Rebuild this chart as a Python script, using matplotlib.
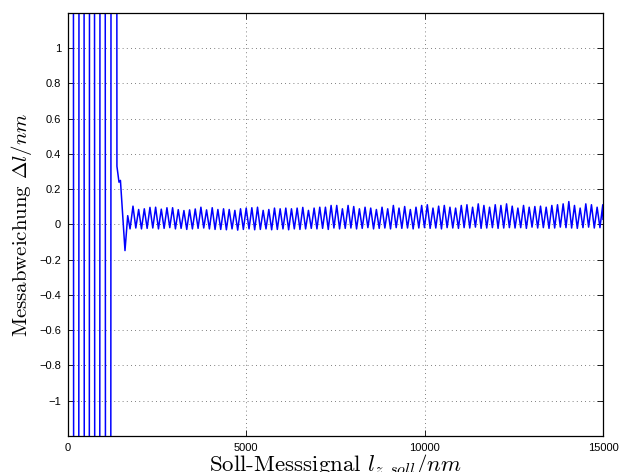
import numpy as np
import matplotlib
matplotlib.use("Agg")
import matplotlib.pyplot as plt
from matplotlib.ticker import FuncFormatter

# Anfangsbereich: große Ausschläge (außerhalb der Skala), Werte geschätzt
start_x = [0, 80, 230, 380, 527, 673, 819, 968, 1126, 1280]
start_y = [0.58, 40, -40, 40, -40, 40, -40, 40, -40, 40]

# Einschwingen
trans_x = [1372, 1430, 1470, 1598, 1674, 1740]
trans_y = [0.33, 0.24, 0.25, -0.148, 0.05, -0.025]

# stationäre Schwingung: Maxima und Minima
peak_first = 1822
peak_last = 14994
peak_vals = [0.104, 0.085, 0.089, 0.097, 0.098, 0.087, 0.095, 0.095, 0.084, 0.079,
             0.083, 0.088, 0.098, 0.083, 0.095,
             0.085, 0.089, 0.085, 0.080, 0.089, 0.093, 0.095, 0.098, 0.080, 0.085,
             0.093, 0.089, 0.093, 0.089, 0.093, 0.097, 0.080,
             0.093, 0.098, 0.098, 0.108, 0.108, 0.089, 0.108, 0.102, 0.089, 0.098,
             0.093, 0.085, 0.098, 0.089, 0.108, 0.093, 0.102, 0.085,
             0.098, 0.108, 0.112, 0.093, 0.104, 0.108, 0.098, 0.093, 0.108, 0.112,
             0.098, 0.117, 0.108, 0.098, 0.112, 0.108, 0.117,
             0.104, 0.093, 0.108, 0.098, 0.102, 0.104, 0.098, 0.108, 0.112, 0.117,
             0.130, 0.108, 0.093, 0.117, 0.112, 0.098, 0.112]
trough_vals = [-0.020, -0.025, -0.022, -0.020, -0.025, -0.022, -0.018, -0.025, -0.022, -0.028,
               -0.025, -0.022, -0.020, -0.025, -0.028,
               -0.028, -0.030, -0.025, -0.032, -0.028, -0.025, -0.030, -0.028, -0.025, -0.030,
               -0.028, -0.025, -0.030, -0.025, -0.028, -0.025, -0.022,
               -0.025, -0.022, -0.028, -0.020, -0.025, -0.022, -0.020, -0.025, -0.022, -0.018,
               -0.025, -0.022, -0.020, -0.025, -0.018, -0.022, -0.020, -0.025,
               -0.020, -0.018, -0.022, -0.020, -0.025, -0.018, -0.020, -0.022, -0.018, -0.020,
               -0.015, -0.022, -0.020, -0.018, -0.022, -0.020, -0.018,
               -0.020, -0.018, -0.022, -0.015, -0.020, -0.018, -0.022, -0.020, -0.015, -0.018,
               -0.020, -0.022, -0.018, -0.015, -0.020, -0.018]
end_x = 15000
end_y = 0.03

y_ticks = [-1, -0.8, -0.6, -0.4, -0.2, 0, 0.2, 0.4, 0.6, 0.8, 1]
x_ticks = [0, 5000, 10000, 15000]

# Messpunkte zusammensetzen (Maxima auf gleichmäßigem Raster, Minima dazwischen)
n = len(peak_vals)
px = np.linspace(peak_first, peak_last, n)
step = px[1] - px[0]
osc_x = np.empty(2 * n - 1)
osc_y = np.empty(2 * n - 1)
osc_x[0::2] = px
osc_y[0::2] = peak_vals
osc_x[1::2] = px[:-1] + step / 2
osc_y[1::2] = trough_vals

x = np.concatenate([start_x, trans_x, osc_x, [end_x]])
y = np.concatenate([start_y, trans_y, osc_y, [end_y]])

plt.rcParams['mathtext.fontset'] = 'cm'


def fmt(v, pos):
    if abs(v) < 1e-9:
        return '0'
    return ('%g' % round(v, 2)).replace('-', '\u2212')


fig = plt.figure(figsize=(6.21, 4.72), dpi=100)
ax = fig.add_axes([0.1095, 0.0763, 0.8615, 0.8962])

ax.plot(x, y, color='blue', linewidth=1.1)

ax.set_xlim(0, 15000)
ax.set_ylim(-1.2, 1.2)
ax.set_xticks(x_ticks)
ax.set_yticks(y_ticks)
ax.yaxis.set_major_formatter(FuncFormatter(fmt))

ax.grid(True, linestyle=(0, (1, 4)), color='#555555', linewidth=0.6)
ax.tick_params(direction='in', top=True, right=True, length=4, width=0.6,
               labelsize=8, pad=5)
for lab in ax.get_xticklabels() + ax.get_yticklabels():
    lab.set_fontfamily('Liberation Sans')
for s in ax.spines.values():
    s.set_linewidth(0.9)

ax.set_xlabel('Soll-Messsignal $l_{z,soll}/nm$', fontfamily='cmr10', fontsize=16.5,
              labelpad=0)
ax.set_ylabel(r'Messabweichung $\Delta l/nm$', fontfamily='cmr10', fontsize=15,
              labelpad=4)

fig.savefig('out.png', dpi=100)
